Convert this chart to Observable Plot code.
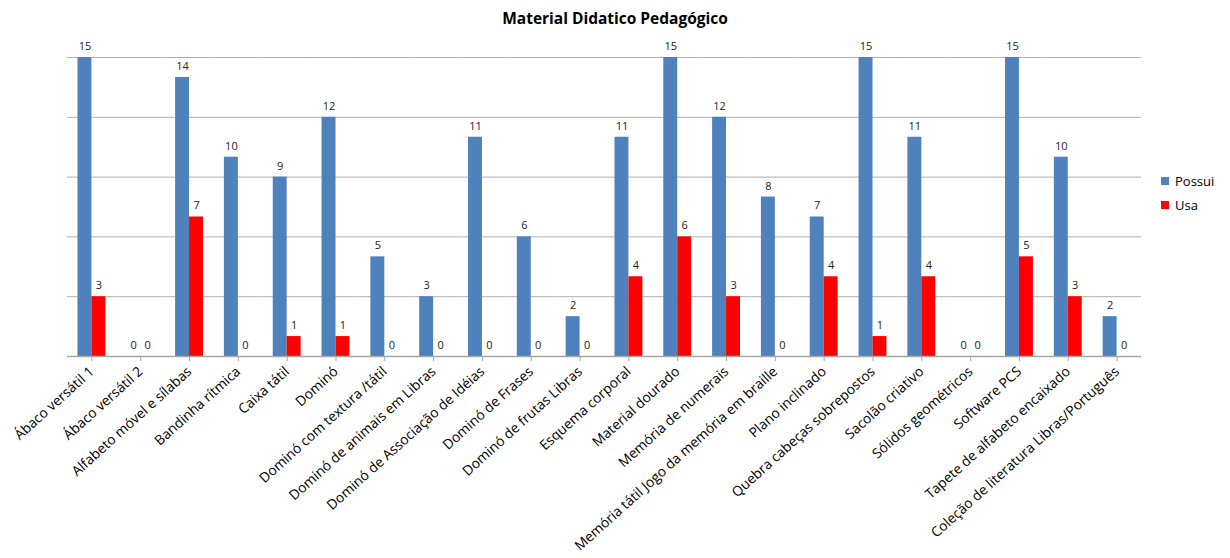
<!DOCTYPE html>
<html>
<head>
<meta charset="utf-8">
<script src="https://cdn.jsdelivr.net/npm/d3@7"></script>
<script src="https://cdn.jsdelivr.net/npm/@observablehq/plot@0.6"></script>
<style>
  html, body { margin: 0; padding: 0; background: #fff; }
  #wrap { position: relative; width: 1230px; height: 558px; font-family: "Open Sans", sans-serif; }
  #title { height: 30px; line-height: 36px; text-align: center; font-weight: bold; font-size: 15.5px; color: #000; }
  #legend { position: absolute; left: 1161px; top: 169px; font-size: 13px; color: #000; }
  #legend .item { display: flex; align-items: center; height: 24px; }
  #legend .sw { width: 8px; height: 8px; margin-right: 6px; }
</style>
</head>
<body>
<div id="wrap">
  <div id="title">Material Didatico Pedagógico</div>
  <div id="chart"></div>
  <div id="legend"></div>
</div>
<script>
const categories = [
  "Ábaco versátil 1", "Ábaco versátil 2", "Alfabeto móvel e sílabas", "Bandinha rítmica",
  "Caixa tátil", "Dominó", "Dominó com textura /tátil", "Dominó de animais em Libras",
  "Dominó de Associação de Idéias", "Dominó de Frases", "Dominó de frutas Libras",
  "Esquema corporal", "Material dourado", "Memória de numerais",
  "Memória tátil Jogo da memória em braille", "Plano inclinado", "Quebra cabeças sobrepostos",
  "Sacolão criativo", "Sólidos geométricos", "Software PCS", "Tapete de alfabeto encaixado",
  "Coleção de literatura Libras/Português"
];
const possui = [15, 0, 14, 10, 9, 12, 5, 3, 11, 6, 2, 11, 15, 12, 8, 7, 15, 11, 0, 15, 10, 2];
const usa    = [3, 0, 7, 0, 1, 1, 0, 0, 0, 0, 0, 4, 6, 3, 0, 4, 1, 4, 0, 5, 3, 0];
const seriesNames = ["Possui", "Usa"];
const seriesColors = ["#4f81bd", "#ff0000"];
const gridValues = [3, 6, 9, 12, 15];

const rows = [];
categories.forEach((c, i) => {
  rows.push({cat: c, series: seriesNames[0], value: possui[i]});
  rows.push({cat: c, series: seriesNames[1], value: usa[i]});
});

const chart = Plot.plot({
  width: 1230,
  height: 528,
  marginLeft: 67,
  marginRight: 89,
  marginTop: 27,
  marginBottom: 202,
  style: {fontFamily: "'Open Sans', sans-serif", background: "#fff"},
  fx: {domain: categories, padding: 0, round: false, label: null},
  x: {domain: seriesNames, paddingInner: 0, paddingOuter: 0.75, round: false, axis: null},
  y: {domain: [0, 15], axis: null},
  color: {domain: seriesNames, range: seriesColors},
  marks: [
    Plot.ruleY(gridValues, {stroke: "#b0b0b0", strokeWidth: 1}),
    Plot.barY(rows, {fx: "cat", x: "series", y: "value", fill: "series"}),
    Plot.ruleY([0], {stroke: "#a6a6a6", strokeWidth: 1.5}),
    Plot.text(rows, {fx: "cat", x: "series", y: "value", text: d => String(d.value), dy: -11, fontSize: 11, fill: "#222"}),
    Plot.axisFx({anchor: "bottom", tickRotate: -42, tickSize: 5, tickPadding: 8, fontSize: 13.8,
      stroke: "#a6a6a6", fill: "#000", label: null, lineWidth: Infinity, textOverflow: null})
  ]
});
document.getElementById("chart").appendChild(chart);

const legend = document.getElementById("legend");
seriesNames.forEach((s, i) => {
  const item = document.createElement("div");
  item.className = "item";
  const sw = document.createElement("div");
  sw.className = "sw";
  sw.style.background = seriesColors[i];
  const t = document.createElement("span");
  t.textContent = s;
  item.appendChild(sw);
  item.appendChild(t);
  legend.appendChild(item);
});
</script>
</body>
</html>
